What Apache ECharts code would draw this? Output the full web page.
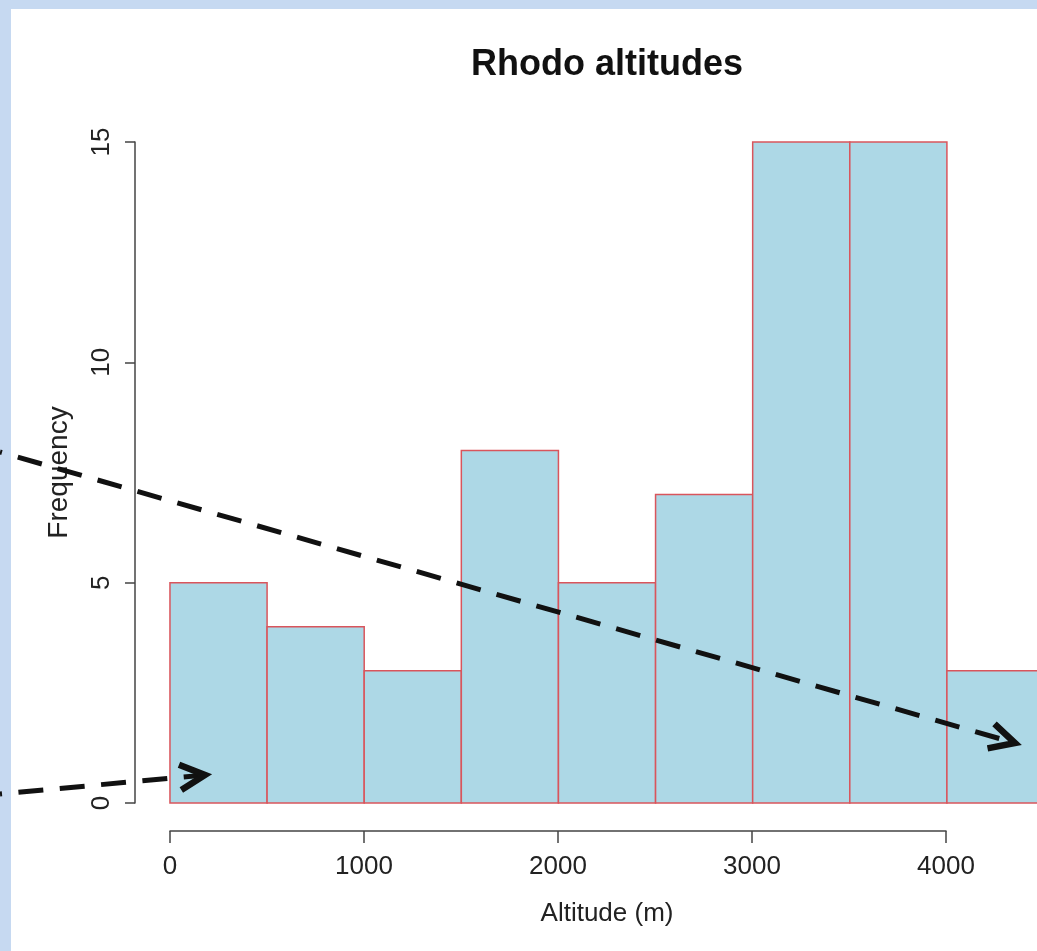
<!DOCTYPE html>
<html>
<head>
<meta charset="utf-8">
<script src="https://cdn.jsdelivr.net/npm/echarts@6/dist/echarts.min.js"></script>
<style>
  html, body { margin: 0; padding: 0; }
  #chart { width: 1037px; height: 951px; }
</style>
</head>
<body>
<div id="chart"></div>
<script>
// histogram bins (left edges, m) and counts
const binStarts = [0, 500, 1000, 1500, 2000, 2500, 3000, 3500, 4000]
const binWidth = 500
const counts = [5, 4, 3, 8, 5, 7, 15, 15, 3]
const xTicks = [0, 1000, 2000, 3000, 4000]
const yTicks = [0, 5, 10, 15]

const FONT = '"Liberation Sans", Arial, Helvetica, sans-serif'
const axisColor = '#444'

const chart = echarts.init(document.getElementById('chart'))

// annotation arrows: dashed shaft + solid chevron head
function arrow(from, to) {
  const ang = Math.atan2(to[1] - from[1], to[0] - from[0])
  const len = 28, spread = Math.PI * 27 / 180
  const a1 = [to[0] - len * Math.cos(ang - spread), to[1] - len * Math.sin(ang - spread)]
  const a2 = [to[0] - len * Math.cos(ang + spread), to[1] - len * Math.sin(ang + spread)]
  return [
    {
      type: 'polyline', z: 100,
      shape: { points: [from, [to[0] - 4 * Math.cos(ang), to[1] - 4 * Math.sin(ang)]] },
      style: { stroke: '#111', lineWidth: 5, fill: null, lineDash: [25, 16.5], lineDashOffset: 23 }
    },
    {
      type: 'polyline', z: 100,
      shape: { points: [a1, to, a2] },
      style: { stroke: '#111', lineWidth: 6.5, fill: null, lineJoin: 'miter' }
    }
  ]
}

const option = {
  backgroundColor: '#c6d9f1',
  animation: false,
  graphic: [
    { type: 'rect', z: -10, shape: { x: 11, y: 9, width: 1030, height: 945 }, style: { fill: '#fff' } },
    {
      type: 'text', z: 10, x: 607, y: 65,
      style: { text: 'Rhodo altitudes', font: 'bold 36px ' + FONT, fill: '#111', textAlign: 'center', textVerticalAlign: 'middle' }
    },
    ...arrow([0, 452], [1015, 743]),
    ...arrow([0, 794], [205, 775])
  ],
  grid: [
    // plot region, x extended 4% either side like R's xlim (runs past the right edge)
    { left: 135, top: 142, width: 944, height: 661, outerBoundsMode: 'none', containLabel: false },
    { left: 170, top: 700, width: 776, height: 131, outerBoundsMode: 'none', containLabel: false }
  ],
  xAxis: [
    {
      gridIndex: 0, type: 'value', min: -180, max: 4680,
      name: 'Altitude (m)', nameLocation: 'middle', nameGap: 98,
      nameTextStyle: { fontFamily: FONT, fontSize: 26, color: '#222' },
      axisLine: { show: false, onZero: false }, axisTick: { show: false },
      axisLabel: { show: false }, splitLine: { show: false }
    },
    {
      gridIndex: 1, type: 'value', min: 0, max: 4000, interval: 1000,
      axisLine: { show: true, onZero: false, lineStyle: { color: axisColor, width: 1.5 } },
      axisTick: { show: true, inside: false, length: 12, lineStyle: { color: axisColor, width: 1.5 } },
      axisLabel: {
        margin: 23, fontFamily: FONT, fontSize: 26, color: '#222',
        customValues: xTicks, formatter: v => String(v)
      },
      splitLine: { show: false }
    }
  ],
  yAxis: [
    {
      gridIndex: 0, type: 'value', min: 0, max: 15, interval: 5,
      position: 'left',
      name: 'Frequency', nameLocation: 'middle', nameGap: 62, nameRotate: 90,
      nameTextStyle: { fontFamily: FONT, fontSize: 28, color: '#222' },
      axisLine: { show: true, onZero: false, lineStyle: { color: axisColor, width: 1.5 } },
      axisTick: { show: true, inside: false, length: 10, lineStyle: { color: axisColor, width: 1.5 } },
      axisLabel: {
        rotate: 90, margin: 20, fontFamily: FONT, fontSize: 26, color: '#222',
        align: 'center', verticalAlign: 'bottom', customValues: yTicks
      },
      splitLine: { show: false }
    },
    {
      gridIndex: 1, type: 'value', min: 0, max: 1, show: false
    }
  ],
  series: [
    {
      type: 'custom',
      xAxisIndex: 0, yAxisIndex: 0,
      clip: false,
      encode: { x: 0, y: 1 },
      data: binStarts.map((b, i) => [b, counts[i]]),
      renderItem: (params, api) => {
        const x0 = api.value(0)
        const c = api.value(1)
        const p0 = api.coord([x0, 0])
        const p1 = api.coord([x0 + binWidth, c])
        return {
          type: 'rect',
          shape: { x: p0[0], y: p1[1], width: p1[0] - p0[0], height: p0[1] - p1[1] },
          style: { fill: '#add8e6', stroke: '#d9555c', lineWidth: 1.5 }
        }
      }
    }
  ]
}

chart.setOption(option)
</script>
</body>
</html>
